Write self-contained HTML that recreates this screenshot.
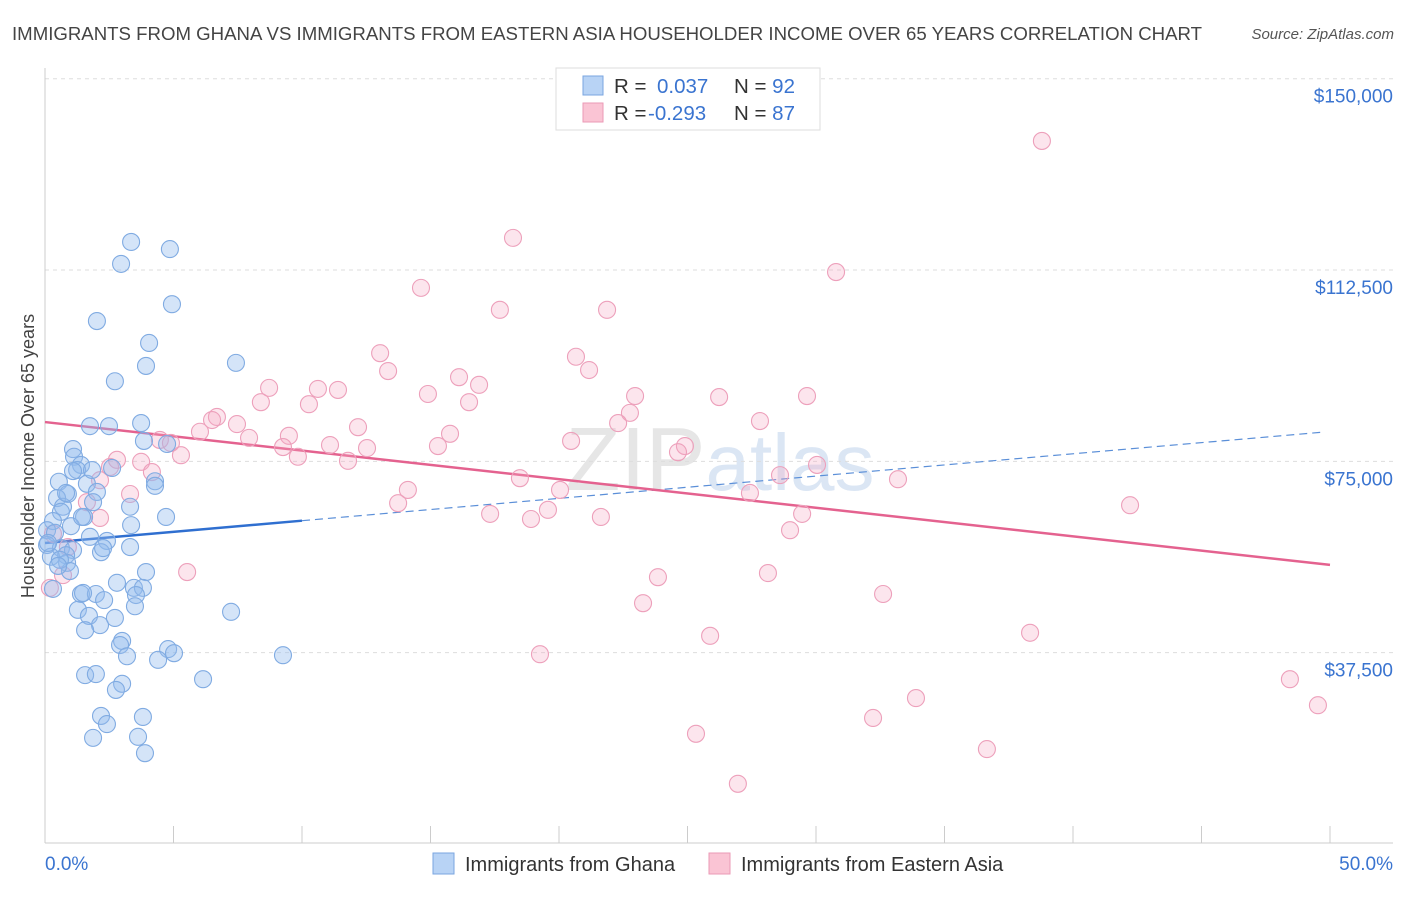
<!DOCTYPE html>
<html><head><meta charset="utf-8"><style>
body{margin:0;background:#fff;font-family:"Liberation Sans",sans-serif;}
svg text{font-family:"Liberation Sans",sans-serif;}
</style></head><body>
<svg id="chart" width="1406" height="892" xmlns="http://www.w3.org/2000/svg">
<text x="12" y="40" font-size="18" fill="#444" textLength="1190" lengthAdjust="spacingAndGlyphs">IMMIGRANTS FROM GHANA VS IMMIGRANTS FROM EASTERN ASIA HOUSEHOLDER INCOME OVER 65 YEARS CORRELATION CHART</text>
<text x="1394" y="39" font-size="15" fill="#555" text-anchor="end" font-style="italic">Source: ZipAtlas.com</text>
<text x="720" y="490" font-size="90" fill="#e6e6e6" text-anchor="middle" font-family="Liberation Serif">ZIP<tspan fill="#dbe6f4" font-family="Liberation Sans" font-size="80">atlas</tspan></text>
<g id="grid"></g>
<g id="ticks"></g>
<text transform="translate(34,456) rotate(-90)" font-size="18" fill="#444" text-anchor="middle">Householder Income Over 65 years</text>
<g id="lines"></g>
<g id="points"></g>
<g>
<rect x="556" y="68" width="264" height="62" fill="#fff" stroke="#ddd"/>
<rect x="583" y="76" width="20" height="19" fill="#b8d3f5" stroke="#7aa6e0"/>
<rect x="583" y="103" width="20" height="19" fill="#fac4d4" stroke="#eb9ab6"/>
<text x="614" y="93" font-size="20.5" fill="#333">R = <tspan fill="#3a74d0" x="657">0.037</tspan><tspan x="734" fill="#333">N = </tspan><tspan fill="#3a74d0">92</tspan></text>
<text x="614" y="120" font-size="20.5" fill="#333">R = <tspan fill="#3a74d0" x="648">-0.293</tspan><tspan x="734" fill="#333">N = </tspan><tspan fill="#3a74d0">87</tspan></text>
</g>
<g>
<rect x="433" y="853" width="21" height="21" fill="#b8d3f5" stroke="#7aa6e0"/>
<text x="465" y="871" font-size="20" fill="#333">Immigrants from Ghana</text>
<rect x="709" y="853" width="21" height="21" fill="#fac4d4" stroke="#eb9ab6"/>
<text x="741" y="871" font-size="20" fill="#333">Immigrants from Eastern Asia</text>
</g>
</svg>
<script>
const yTicks=[37500,75000,112500,150000];
const yTickLabels=["$37,500","$75,000","$112,500","$150,000"];
const xTicks=[0,5,10,15,20,25,30,35,40,45,50];
const xEndLabels=["0.0%","50.0%"];
const ghanaX=[3.35,4.86,2.96,4.94,2.02,4.05,3.93,7.43,2.72,3.74,1.75,2.49,3.85,4.75,1.09,1.13,1.40,1.25,2.61,4.28,4.28,0.54,1.63,0.89,0.47,2.02,1.87,0.70,3.31,0.62,1.52,4.71,0.31,1.01,3.35,0.08,0.39,1.75,2.41,0.08,0.62,1.09,2.18,0.82,2.26,0.23,0.86,0.97,3.93,2.80,3.46,3.81,1.40,1.98,3.54,2.30,1.28,3.50,7.24,1.71,2.72,2.14,1.56,3.00,2.92,4.79,5.02,3.19,4.40,9.26,1.56,1.98,3.00,6.15,2.76,2.18,3.81,2.41,1.87,3.62,3.89,0.31,1.48,0.58,0.12,1.44,1.83,3.31,1.09,0.82,0.51];
const ghanaY=[118.0,116.6,113.7,105.8,102.5,98.2,93.7,94.3,90.7,82.5,81.9,81.9,79.0,78.4,77.4,75.9,74.3,73.3,73.7,71.1,70.2,71.0,70.6,68.6,67.8,69.0,67.0,66.1,66.1,65.1,64.1,64.1,63.3,62.3,62.5,61.5,61.0,60.2,59.4,58.6,58.0,57.6,57.2,56.6,58.0,56.3,55.1,53.5,53.3,51.2,50.2,50.2,49.0,49.0,48.8,47.8,45.9,46.6,45.5,44.7,44.3,42.9,41.9,39.8,39.0,38.2,37.4,36.8,36.1,37.0,33.1,33.3,31.4,32.3,30.2,25.1,24.9,23.5,20.8,21.0,17.8,50.0,49.2,55.7,59.0,64.1,73.3,58.2,73.1,68.8,54.5];
const asiaX=[38.79,18.21,30.78,14.63,17.70,21.87,13.04,20.66,13.35,21.17,16.11,16.89,8.72,10.62,11.40,14.90,8.40,22.96,26.23,29.65,10.27,16.50,6.69,7.47,6.50,12.18,27.82,22.76,22.30,7.94,9.49,4.47,4.90,11.09,5.29,6.03,15.76,9.26,15.29,12.53,20.47,9.84,11.79,3.74,24.90,24.63,2.53,4.16,2.80,30.04,18.48,28.60,33.19,2.14,3.31,20.04,14.12,13.74,27.43,42.22,1.63,19.57,17.32,18.91,21.63,29.46,28.99,2.14,0.31,0.89,5.53,23.85,28.13,32.61,23.27,25.88,38.33,19.26,33.89,48.44,32.22,25.33,36.65,49.53,26.96,0.70,0.19];
const asiaY=[137.8,118.8,112.1,109.0,104.7,104.7,96.2,95.5,92.7,92.9,91.5,90.0,89.4,89.2,89.0,88.2,86.6,87.8,87.6,87.8,86.2,86.6,83.7,82.3,83.1,81.7,82.9,84.5,82.5,79.6,80.0,79.2,78.6,78.2,76.2,80.8,80.4,77.8,78.0,77.6,79.0,75.9,75.1,74.9,78.0,76.8,73.9,72.9,75.3,74.3,71.7,72.3,71.5,71.3,68.6,69.4,69.4,66.8,68.8,66.4,67.0,65.5,64.7,63.7,64.1,64.7,61.5,63.9,60.8,58.2,53.3,52.3,53.1,49.0,47.2,40.8,41.4,37.2,28.6,32.3,24.7,21.6,18.6,27.2,11.8,52.7,50.2];
const ghanaTrend=[59.0,0.437];
const asiaTrend=[82.7,-0.56];
const NS="http://www.w3.org/2000/svg";
function xs(v){return 45+v*25.7;}
function yv(k){return 844-k/0.196;}
function mk(t,a,p){const e=document.createElementNS(NS,t);for(const k in a)e.setAttribute(k,a[k]);p.appendChild(e);return e;}
const grid=document.getElementById('grid'),ticks=document.getElementById('ticks'),lines=document.getElementById('lines'),pts=document.getElementById('points');
mk('line',{x1:45,y1:68,x2:45,y2:843,stroke:'#ccc'},ticks);
mk('line',{x1:45,y1:843,x2:1393,y2:843,stroke:'#ccc'},ticks);
yTicks.forEach((v,i)=>{const y=yv(v/1000);
const g=mk('line',{x1:45,y1:y,x2:1393,y2:y,stroke:'#ddd','stroke-dasharray':'4 4'},grid);


const t=mk('text',{x:1393,y:y+24,'font-size':19,fill:'#3a74d0','text-anchor':'end'},ticks);t.textContent=yTickLabels[i];

});
xTicks.forEach(v=>{const x=xs(v);const l=mk('line',{x1:x,y1:826,x2:x,y2:843,stroke:'#ccc'},ticks);

});
const xl0=mk('text',{x:45,y:870,'font-size':19,fill:'#3a74d0'},ticks);xl0.textContent=xEndLabels[0];


const xl1=mk('text',{x:1393,y:870,'font-size':19,fill:'#3a74d0','text-anchor':'end'},ticks);xl1.textContent=xEndLabels[1];


function draw(X,Y,fill,stroke,name){X.forEach((x,i)=>{const c=mk('circle',{cx:xs(x),cy:yv(Y[i]),r:8.5,fill:fill,stroke:stroke,'stroke-width':1.1},pts);

});}
draw(asiaX,asiaY,'rgba(244,170,195,0.3)','#eda0bb','eastern-asia-point');
draw(ghanaX,ghanaY,'rgba(147,187,237,0.4)','#80abe2','ghana-point');
const f=(t,x)=>t[0]+t[1]*x;
const b1=mk('line',{x1:xs(0),y1:yv(f(ghanaTrend,0)),x2:xs(10),y2:yv(f(ghanaTrend,10)),stroke:'#2f6fd0','stroke-width':2.5},lines);


const b2=mk('line',{x1:xs(10),y1:yv(f(ghanaTrend,10)),x2:xs(49.8),y2:yv(f(ghanaTrend,49.8)),stroke:'#5b8fd8','stroke-width':1.2,'stroke-dasharray':'8 5'},lines);


const p1=mk('line',{x1:xs(0),y1:yv(f(asiaTrend,0)),x2:xs(50),y2:yv(f(asiaTrend,50)),stroke:'#e4628f','stroke-width':2.5},lines);


</script>
</body></html>
